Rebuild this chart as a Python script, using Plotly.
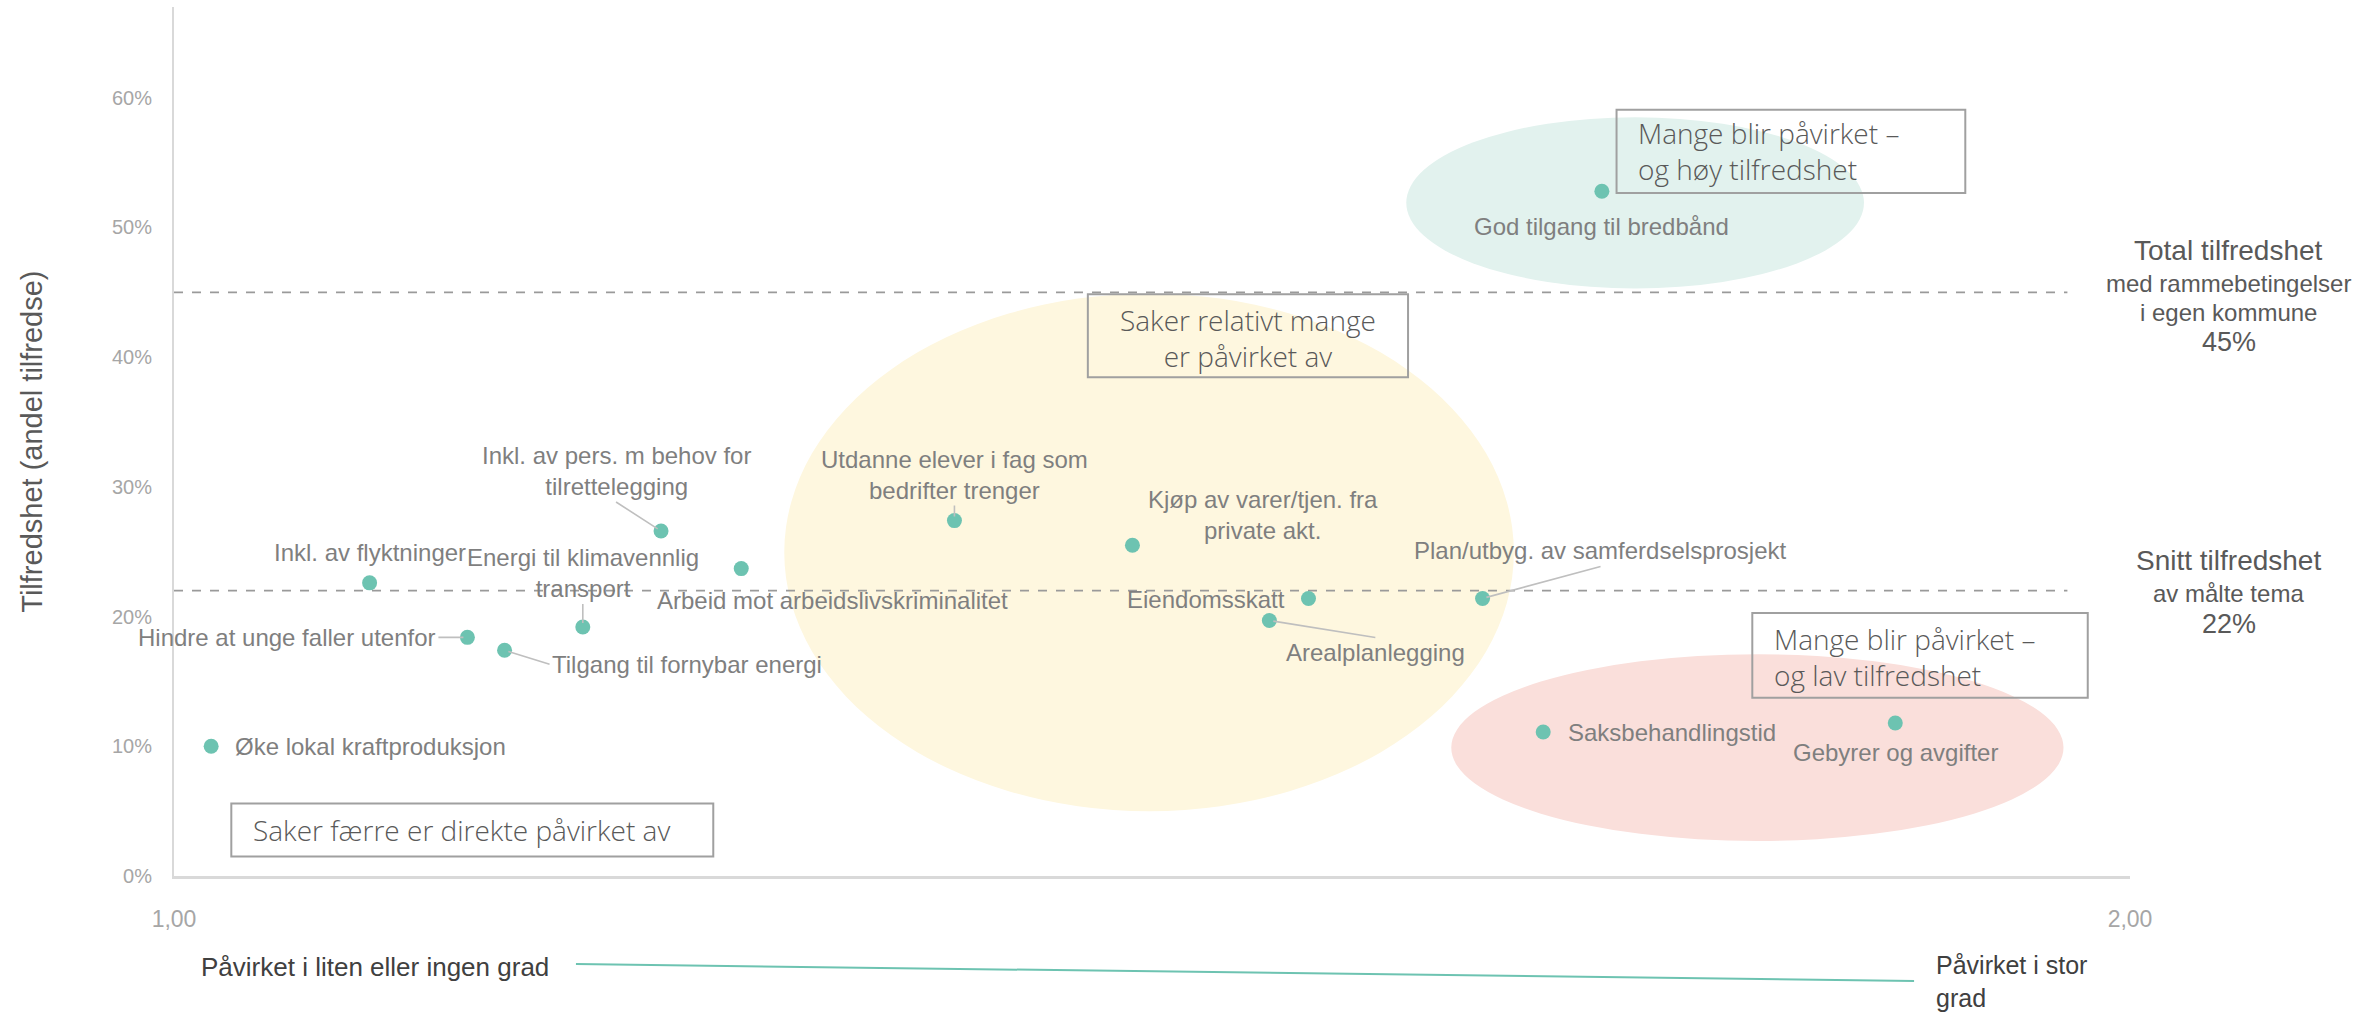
import plotly.graph_objects as go

# data
labels = [
    "Øke lokal kraftproduksjon",
    "Inkl. av flyktninger",
    "Hindre at unge faller utenfor",
    "Tilgang til fornybar energi",
    "Energi til klimavennlig<br>transport",
    "Inkl. av pers. m behov for<br>tilrettelegging",
    "Arbeid mot arbeidslivskriminalitet",
    "Utdanne elever i fag som<br>bedrifter trenger",
    "Kjøp av varer/tjen. fra<br>private akt.",
    "Eiendomsskatt",
    "Arealplanlegging",
    "Plan/utbyg. av samferdselsprosjekt",
    "God tilgang til bredbånd",
    "Saksbehandlingstid",
    "Gebyrer og avgifter",
]
paavirket = [1.019, 1.100, 1.150, 1.169, 1.209, 1.249, 1.290, 1.399, 1.490,
             1.580, 1.560, 1.669, 1.730, 1.700, 1.880]
tilfredshet = [0.100, 0.226, 0.184, 0.174, 0.192, 0.266, 0.237, 0.274, 0.255,
               0.214, 0.197, 0.214, 0.528, 0.111, 0.118]

total_tilfredshet = 0.45
snitt_tilfredshet = 0.22

y_ticks = [0, 0.1, 0.2, 0.3, 0.4, 0.5, 0.6]
x_ticks = [1, 2]
x_ticktext = ["1,00", "2,00"]

# highlighted zones (x0, x1, y0, y1, colour)
zones = [
    (1.312, 1.685, 0.050, 0.449, "#FEF7DF"),
    (1.630, 1.864, 0.453, 0.585, "#E2F2EE"),
    (1.653, 1.966, 0.027, 0.171, "#FADFDB"),
]

# quadrant boxes: text, rect (x0, x1, y0, y1), text anchor x, y, align
boxes = [
    ("Mange blir påvirket –<br>og høy tilfredshet", (1.7375, 1.9158, 0.5266, 0.5907), 1.7475, 0.5587, "left"),
    ("Saker relativt mange<br>er påvirket av", (1.4672, 1.6309, 0.3845, 0.4486), 1.549, 0.4145, "center"),
    ("Mange blir påvirket –<br>og lav tilfredshet", (1.8069, 1.9784, 0.1375, 0.2027), 1.817, 0.1689, "left"),
    ("Saker færre er direkte påvirket av", (1.0293, 1.2757, 0.0151, 0.0559), 1.0394, 0.0355, "left"),
]

# label placement: (leader line?, xanchor, yanchor, dx, dy) in screen pixels, dy down
placement = [
    (False, "left", "middle", 22, 0),
    (False, "center", "middle", 0, -30),
    (True, "right", "middle", -29, 0),
    (True, "left", "middle", 45, 14),
    (True, "center", "bottom", 0, -23),
    (True, "center", "bottom", -45, -29),
    (False, "left", "middle", -86, 32),
    (True, "center", "bottom", 0, -15),
    (False, "center", "middle", 131, -30),
    (False, "right", "middle", -21, 1),
    (True, "center", "top", 106, 17),
    (True, "center", "bottom", 118, -32),
    (False, "center", "middle", 0, 35),
    (False, "left", "middle", 23, 0),
    (False, "center", "middle", 0, 30),
]

FONT = "Liberation Sans, Arial, sans-serif"
BOXFONT = "Open Sans, Lato, sans-serif"
TEAL = "#6DC3B1"
LABEL_GREY = "#7F7F7F"
DARK = "#595959"

fig = go.Figure()

for x0, x1, y0, y1, col in zones:
    fig.add_shape(type="circle", xref="x", yref="y", x0=x0, x1=x1, y0=y0, y1=y1,
                  fillcolor=col, line=dict(width=0), layer="below")

for val in (total_tilfredshet, snitt_tilfredshet):
    fig.add_shape(type="line", xref="x", yref="y", x0=1.0, x1=1.968, y0=val, y1=val,
                  line=dict(color="#9A9A9A", width=1.6, dash="dash"), layer="below")

fig.add_trace(go.Scatter(x=paavirket, y=tilfredshet, mode="markers",
                         marker=dict(size=15, color=TEAL), showlegend=False,
                         hovertext=labels, cliponaxis=False))

for lab, x, y, (arrow, xa, ya, dx, dy) in zip(labels, paavirket, tilfredshet, placement):
    common = dict(x=x, y=y, xref="x", yref="y", text=lab, xanchor=xa, yanchor=ya,
                  font=dict(family=FONT, size=24, color=LABEL_GREY), align="center")
    if arrow:
        fig.add_annotation(**common, showarrow=True, ax=dx, ay=dy, arrowhead=0,
                           arrowwidth=1.6, arrowcolor="#BFBFBF", standoff=4)
    else:
        fig.add_annotation(**common, showarrow=False, xshift=dx, yshift=-dy)

for txt, (x0, x1, y0, y1), tx, ty, al in boxes:
    fig.add_shape(type="rect", xref="x", yref="y", x0=x0, x1=x1, y0=y0, y1=y1,
                  line=dict(color="#A0A0A0", width=2), fillcolor="rgba(0,0,0,0)")
    fig.add_annotation(x=tx, y=ty, xref="x", yref="y", text=txt, showarrow=False,
                       xanchor="left" if al == "left" else "center", yanchor="middle",
                       align=al, font=dict(family=BOXFONT, size=28, color="#595959", weight=300))

# right-hand reference texts
right_x = 1.0506
for val, lines in (
    (total_tilfredshet, [("Total tilfredshet", 28, 42), ("med rammebetingelser", 24, 9),
                         ("i egen kommune", 24, -20), ("45%", 27, -50)]),
    (snitt_tilfredshet, [("Snitt tilfredshet", 28, 30), ("av målte tema", 24, -3),
                         ("22%", 27, -33)]),
):
    for txt, size, shift in lines:
        fig.add_annotation(x=right_x, y=val, xref="paper", yref="y", text=txt,
                           showarrow=False, xanchor="center", yanchor="middle", yshift=shift,
                           font=dict(family=FONT, size=size, color=DARK))

# y title
fig.add_annotation(x=-0.073, y=0.5, xref="paper", yref="paper",
                   text="Tilfredshet (andel tilfredse)", textangle=-90, showarrow=False,
                   xanchor="center", yanchor="middle",
                   font=dict(family=FONT, size=29, color=DARK))

# bottom scale description
fig.add_annotation(x=0.0128, y=-0.1047, xref="paper", yref="paper",
                   text="Påvirket i liten eller ingen grad", showarrow=False,
                   xanchor="left", yanchor="middle",
                   font=dict(family=FONT, size=26, color="#404040"))
fig.add_annotation(x=0.8998, y=-0.1215, xref="paper", yref="paper",
                   text="Påvirket i stor<br>grad", showarrow=False, align="left",
                   xanchor="left", yanchor="middle",
                   font=dict(family=FONT, size=25, color="#404040"))
fig.add_shape(type="line", xref="paper", yref="paper", x0=0.2055, x1=0.8896,
              y0=-0.1013, y1=-0.1208, line=dict(color=TEAL, width=2))

fig.update_xaxes(range=[1, 2], tickvals=x_ticks, ticktext=x_ticktext,
                 showgrid=False, zeroline=False, showline=True, linecolor="#D9D9D9",
                 linewidth=3, ticks="", ticklabelstandoff=20,
                 tickfont=dict(family=FONT, size=23, color="#A6A6A6"))
fig.update_yaxes(range=[0, 0.67], tickvals=y_ticks, tickformat=".0%",
                 showgrid=False, zeroline=False, showline=True, linecolor="#D9D9D9",
                 linewidth=2, ticks="", ticklabelstandoff=16,
                 tickfont=dict(family=FONT, size=20, color="#A6A6A6"))

fig.update_layout(width=2369, height=1013, plot_bgcolor="white", paper_bgcolor="white",
                  margin=dict(l=174, r=239, t=7, b=137), showlegend=False)

# drop the default page margin so the figure fills the window exactly
fig.write_html("out.html", config={"displayModeBar": False},
               post_script="document.body.style.margin='0px';")
